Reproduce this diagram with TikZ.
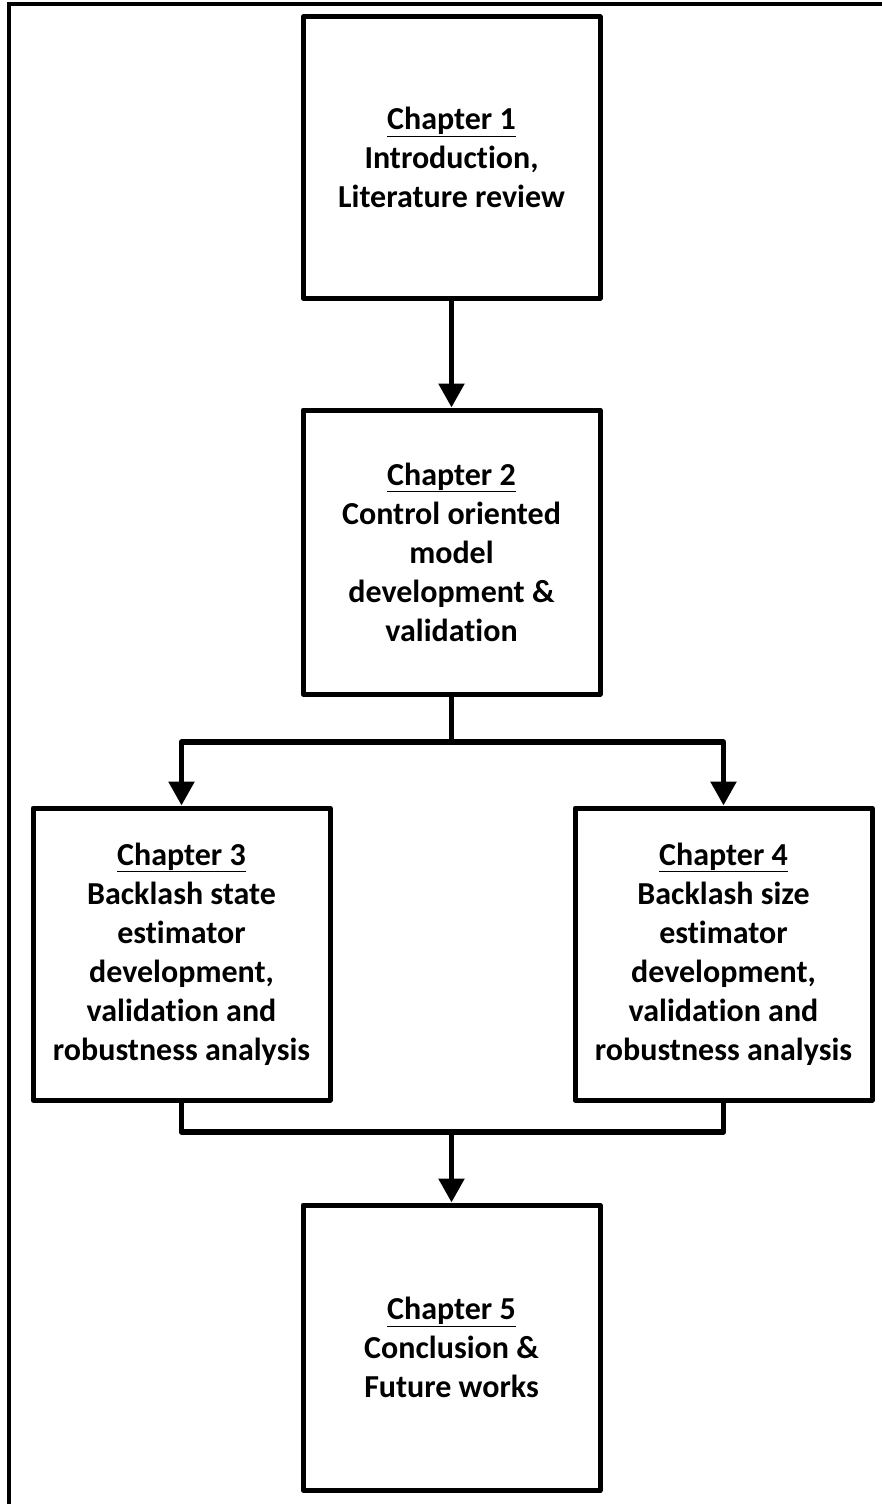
\documentclass[tikz,border=0pt]{standalone}
\usepackage{fontspec}
\setmainfont{Carlito}[Ligatures=NoCommon,RawFeature={-liga;-dlig}]
\usetikzlibrary{arrows.meta,shadows}
\begin{document}
\begin{tikzpicture}[x=1pt,y=-1pt,
  box/.style={draw, fill=white, line width=5pt, line join=round, align=center, inner sep=0pt,
    minimum width=297pt, font=\bfseries\fontsize{32}{39}\selectfont},
  conn/.style={line width=5.5pt, line join=round},
  arr/.style={conn, -{Triangle[width=25pt,length=24pt]}}]
\useasboundingbox (0,0) rectangle (882,1504);
\coordinate (fbl) at (9,1504);
\coordinate (ftl) at (9,4);
\coordinate (ftr) at (882,4);
\draw[line width=4pt] (fbl) -- (ftl) -- (ftr);

\node[box, minimum height=281pt] (b1) at (451.5,157.5)
  {\underline{Chapter 1}\\Introduction,\\Literature review};
\node[box, minimum height=284pt] (b2) at (451.5,552)
  {\underline{Chapter 2}\\Control oriented\\model\\development \&\\validation};
\node[box, minimum height=292pt] (b3) at (181.5,954)
  {\underline{Chapter 3}\\Backlash state\\estimator\\development,\\validation and\\robustness analysis};
\node[box, minimum height=292pt] (b4) at (723.5,954)
  {\underline{Chapter 4}\\Backlash size\\estimator\\development,\\validation and\\robustness analysis};
\node[box, minimum height=285pt, drop shadow={shadow xshift=2pt, shadow yshift=-3pt, fill=gray, opacity=1}] (b5) at (451.5,1347.5)
  {\underline{Chapter 5}\\Conclusion \&\\Future works};

\coordinate (fork) at (451.5,742);
\coordinate (join) at (451.5,1132);

\draw[arr] (b1.south) -- (b2.north);
\draw[conn] (b2.south) -- (fork);
\draw[arr] (fork) -| (b3.north);
\draw[arr] (fork) -| (b4.north);
\draw[conn] (b3.south) |- (join) -| (b4.south);
\draw[arr] (join) -- (b5.north);
\end{tikzpicture}
\end{document}
